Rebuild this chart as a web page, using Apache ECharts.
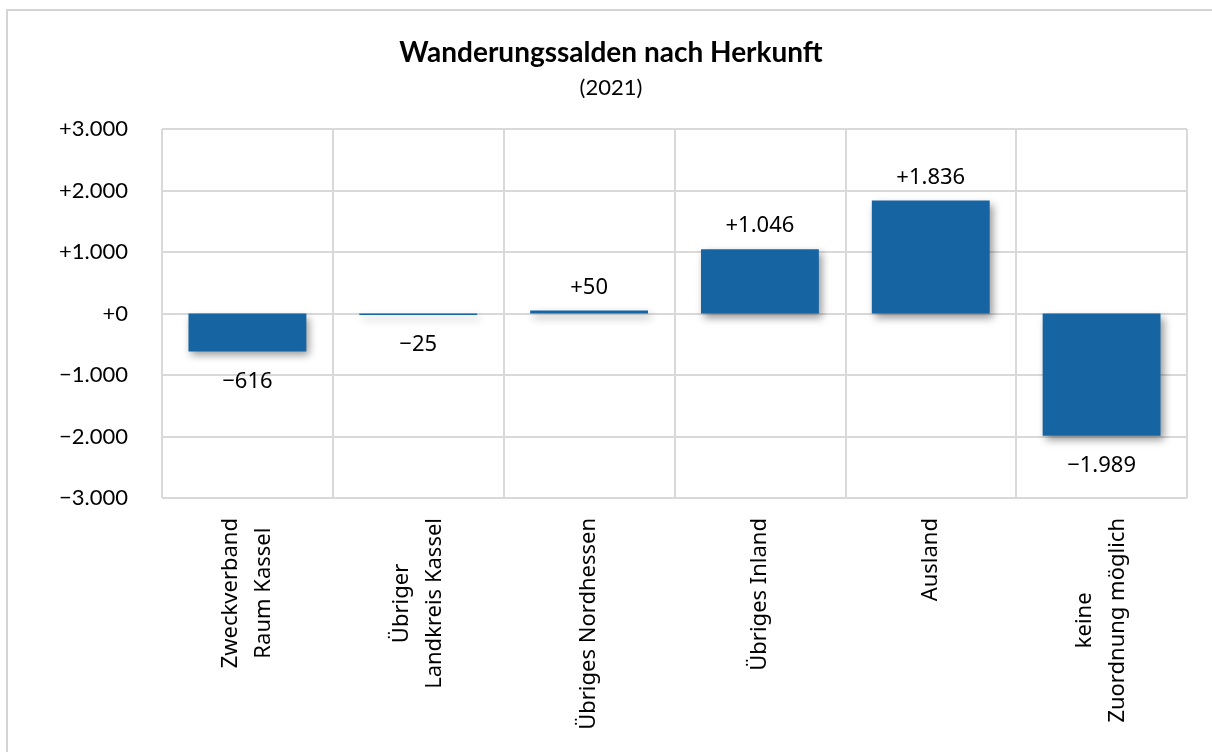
<!DOCTYPE html>
<html>
<head>
<meta charset="utf-8">
<script src="https://cdn.jsdelivr.net/npm/echarts@6/dist/echarts.min.js"></script>
<style>
  html, body { margin: 0; padding: 0; background: #fff; }
  #frame { position: absolute; left: 6px; top: 9px; width: 1220px; height: 760px; border: 2px solid #d4d4d4; box-sizing: border-box; }
  #chart { position: absolute; left: 0; top: 0; width: 1212px; height: 752px; }
</style>
</head>
<body>
<div id="frame"></div>
<div id="chart"></div>
<script>
const categories = [
  "Zweckverband\nRaum Kassel",
  "Übriger\nLandkreis Kassel",
  "Übriges Nordhessen",
  "Übriges Inland",
  "Ausland",
  "keine\nZuordnung möglich",
];
const saldo = [-616, -25, 50, 1046, 1836, -1989];
const yTicks = { min: -3000, max: 3000, interval: 1000 };

// deutsche Tausenderpunkte, Vorzeichen immer anzeigen
const fmt = (v) => {
  const s = String(Math.abs(v)).replace(/\B(?=(\d{3})+(?!\d))/g, ".");
  return (v < 0 ? "\u2212" : "+") + s;
};

const chart = echarts.init(document.getElementById("chart"));

chart.setOption({
  animation: false,
  title: {
    text: "Wanderungssalden nach Herkunft",
    subtext: "(2021)",
    left: 606,
    textAlign: "center",
    top: 34,
    itemGap: 10,
    textStyle: { fontFamily: "Lato", fontWeight: "bold", fontSize: 28, color: "#000" },
    subtextStyle: { fontFamily: "Lato", fontSize: 22, color: "#000" },
  },
  grid: { left: 162, right: 25, top: 129, bottom: 254, containLabel: false },
  xAxis: {
    type: "category",
    data: categories,
    axisLine: { show: false },
    axisTick: { show: false },
    splitLine: { show: true, lineStyle: { color: "#d9d9d9", width: 2 } },
    axisLabel: {
      interval: 0,
      rotate: 90,
      margin: 20,
      formatter: (v) => v.split("\n").map((l) => `{a|${l}}`).join("\n"),
      rich: {
        a: { align: "center", fontFamily: "Noto Sans", fontSize: 22, lineHeight: 33, color: "#000" },
      },
    },
  },
  yAxis: {
    type: "value",
    min: yTicks.min,
    max: yTicks.max,
    interval: yTicks.interval,
    axisLine: { show: false },
    axisTick: { show: false },
    splitLine: { lineStyle: { color: "#d9d9d9", width: 2 } },
    axisLabel: {
      margin: 34,
      fontFamily: "Lato",
      fontSize: 22,
      color: "#000",
      formatter: fmt,
    },
  },
  series: [
    {
      type: "bar",
      data: saldo.map((v) => ({
        value: v,
        label: { position: v < 0 ? "bottom" : "top", distance: v < 0 ? 19 : 12 },
      })),
      barWidth: "69%",
      itemStyle: {
        color: "#1764a3",
        shadowColor: "rgba(0,0,0,0.4)",
        shadowBlur: 8,
        shadowOffsetX: 3,
        shadowOffsetY: 4,
      },
      label: {
        show: true,
        fontFamily: "Noto Sans",
        fontSize: 22,
        color: "#000",
        formatter: (p) => fmt(p.value),
      },
    },
  ],
});
</script>
</body>
</html>
